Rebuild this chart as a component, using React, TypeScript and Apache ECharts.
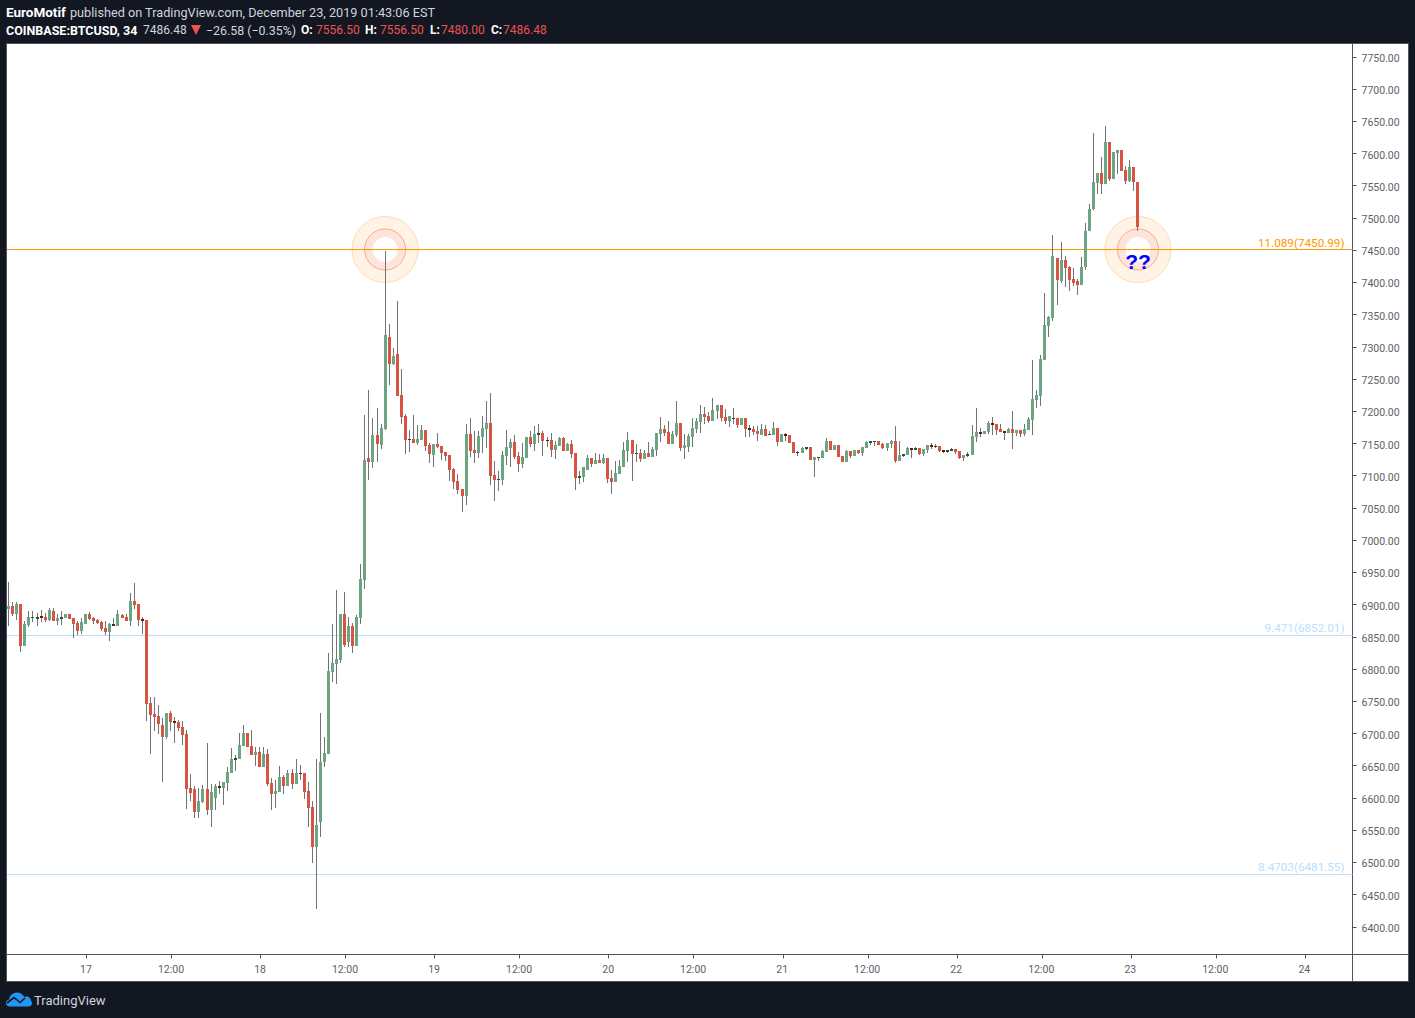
import React, { useEffect, useRef } from "react";
import * as echarts from "echarts";

// Each bar: [open, close, low, high]
const dec16Bars = [
  [6893,6898,6867,6935],[6898,6885,6882,6904],[6885,6901,6876,6904],[6901,6836,6826,6901],[6836,6870,6836,6874.5],
  [6868,6881,6865,6890],[6879,6881,6873,6890],[6878,6881,6867,6887],[6882,6879,6873,6892],[6881,6876,6873,6887],
  [6876,6892,6874.5,6895],[6890,6874.5,6874.5,6895],[6874.5,6879,6868,6885],[6878,6881,6868,6890],[6879,6885,6879,6885],
  [6885,6878,6878,6885],[6879,6870,6848,6879],[6871,6859,6853,6874.5],[6859,6873,6854,6879],
];
const dec17Bars = [
  [6870,6885,6870,6885],[6885,6878,6876,6888.5],[6879,6874.5,6870,6881],[6876,6871,6870,6878],[6873,6862,6859,6874.5],
  [6864,6857.5,6853,6874.5],[6857.5,6870,6843.5,6871],[6870,6867,6867,6879],[6867,6885,6867,6892],[6884,6879,6879,6885],
  [6881,6874.5,6874.5,6885],[6874.5,6905.5,6867,6918],[6905.5,6899.5,6893,6933.5],[6901,6876,6867,6901],[6878,6874.5,6854,6881],
  [6876,6745.7,6719,6876],[6747,6729,6668,6756.5],[6730,6725.5,6704,6756.5],[6727,6714.6,6699,6744],[6713,6694.5,6624.6,6724],
  [6694.5,6731.7,6691.4,6731.7],[6731.7,6717.7,6704,6734.8],[6719,6716,6685,6725.5],[6718,6708.4,6704,6721],[6710,6697.6,6682,6719],
  [6699,6614,6583,6705],[6615,6608,6595,6637],[6614,6578,6569,6618],[6578,6595,6569,6615],[6594,6614,6592,6620],
  [6614,6581,6573,6685],[6581,6609,6555,6621.5],[6600,6618,6581,6621.5],[6618,6615,6606,6626],[6615,6624.6,6589,6624.6],
  [6623,6640,6611,6648],[6639,6660,6639,6677],[6659,6662,6642,6666.5],[6660,6682,6660,6701],[6680.5,6701,6680.5,6713],
  [6701,6679,6679,6701],[6680.5,6666.5,6666.5,6705],[6666.5,6671,6649,6679],
];
const dec18Bars = [
  [6671,6648,6648,6679],[6648,6668,6648,6679],[6668,6621.5,6618,6676],[6623,6606,6581,6631],[6606,6611,6584,6628],
  [6609,6632,6609,6649],[6632,6618,6606,6635.5],[6618,6639,6618,6643],[6639,6621.5,6614,6645],[6621.5,6639,6621.5,6660],
  [6639,6637,6628,6651],[6639,6609,6598,6639],[6611,6584,6555,6625],[6586,6524,6499,6595],[6524,6558,6427.5,6660],
  [6562.5,6656,6539,6732],[6656,6670,6648,6694.5],[6668,6797,6668,6825],[6795,6809,6780,6870],[6808,6815.5,6777,6923],
  [6814,6885,6809,6885],[6885,6837,6834,6919.5],[6842,6867,6834,6881],[6867,6836,6825,6871],[6836,6881,6836,6884],
  [6879,6940,6870,6963],[6938,7124,6924,7194],[7127,7121,7093,7233],[7121,7163,7112,7189.5],[7163,7149,7121,7205],
  [7148,7174,7141,7180],[7172,7318,7171,7449],[7315,7273,7241,7335],[7273,7286,7272,7298],[7289,7224,7224,7371],
  [7225,7191,7180,7265.5],[7193,7155,7134,7196],[7155.5,7157,7137,7171],[7157,7151,7151,7194],[7151,7157,7148,7179],
  [7155,7171,7155,7179],[7171,7146,7138,7171],[7148,7134,7120,7151],
];
const dec19Bars = [
  [7132,7149,7113.5,7149],[7149,7144.5,7143,7166],[7146,7135,7124,7146],[7137,7130.5,7123,7137],[7132,7109,7092,7132],
  [7110,7090,7079,7112],[7092,7078,7072,7103],[7079,7068.5,7044,7079],[7068.5,7165,7054.5,7180],[7165,7138,7129,7189.5],
  [7140,7135,7120,7169],[7135,7162,7127.5,7169],[7160,7174,7135,7193],[7172.5,7182,7143,7216],[7182,7099.5,7085.5,7228],
  [7101,7093,7061,7123],[7093,7095,7076,7107],[7093,7132,7085.5,7138],[7130.5,7144.5,7117,7171],[7143,7152,7113.5,7157],
  [7152,7129,7126,7163],[7130.5,7118,7106,7137],[7118,7129,7112,7151],[7127.5,7160,7127.5,7160],[7160,7149,7144.5,7169],
  [7149,7165,7138,7177],[7163,7166,7151,7180],[7166,7154,7130.5,7169],[7155.5,7154,7144.5,7160],[7155.5,7140,7129,7166],
  [7140,7148,7126,7154],[7146,7158.5,7146,7160],[7158.5,7138,7138,7160],[7138,7149,7138,7151],[7149,7134,7127.5,7155],
  [7135,7096,7077.8,7135],[7096,7099.5,7087,7107],[7098,7113.5,7090,7113.5],[7109,7127.5,7109,7132],[7127.5,7118,7113.5,7127.5],
  [7118,7124,7118,7135],[7124,7120,7120,7133.7],[7120,7127.5,7118,7134],
];
const dec20Bars = [
  [7127.5,7095,7089,7127.5],[7096,7090,7072,7109],[7090,7104,7090,7123],[7103,7115,7103,7124],[7113.5,7140,7113.5,7152],
  [7138,7155,7121,7168],[7155.5,7134,7092,7155.5],[7134,7135,7121,7149],[7135,7126,7121,7141],[7126,7135,7126,7140],
  [7135,7129,7129,7152],[7129,7141,7129,7144.5],[7140,7166,7131,7166],[7165,7172.5,7152,7191],[7172.5,7166,7162,7179],
  [7168,7149,7149,7185],[7149,7165,7149,7169],[7163,7182,7160,7216],[7182,7143,7138,7182],[7143,7148,7126,7165],
  [7144.5,7162,7137,7165],[7160,7174,7144.5,7189.5],[7172.5,7185,7166,7189.5],[7183,7196,7166,7210],[7196,7191,7180,7207],
  [7193,7185,7182,7199],[7185,7202,7185,7221],[7200,7210,7188,7210],[7210,7189.5,7185,7210],[7191,7185,7180,7203.5],
  [7185,7193,7176,7193],[7189.5,7188,7180,7205],[7189.5,7179,7174,7189.5],[7179,7189.5,7179,7189.5],[7189.5,7172.5,7160,7189.5],
  [7174,7171,7160,7179],[7172.5,7168,7163,7177],[7169.4,7165,7154,7177],[7163,7172.5,7163,7180],[7172.5,7162,7162,7179],
  [7163,7165,7163,7169],[7163,7174,7163,7183],[7174,7152,7146,7174],
];
const dec21Bars = [
  [7152,7165,7152,7165],[7165,7162,7154,7166],[7163,7151,7151,7163],[7152,7135,7135,7152],[7137,7135,7130.6,7138],
  [7135,7143,7135,7144.5],[7141.4,7144.5,7140,7144.5],[7144.5,7124,7124,7144.5],[7124,7129,7098,7129],[7127.5,7129,7123,7129],
  [7127.5,7138,7127.5,7140],[7137,7154,7137,7158.5],[7154,7140,7140,7154],[7140,7148,7140,7148],[7148,7129,7129,7148],
  [7131,7121,7121,7131],[7121,7138,7121,7140],[7138,7131,7127.5,7138],[7131,7140,7131,7140],[7140,7135,7134,7140],
  [7135,7145,7131,7145],[7143,7152,7143,7154],[7151,7154,7148,7154],[7152.3,7154,7146,7154],[7154,7148,7148,7154],
  [7149,7143,7141.5,7151],[7143,7151,7138,7151],[7149,7154,7143,7155.5],[7154,7123,7120,7177],[7123,7132,7123,7154],
  [7130.6,7133.7,7129,7133.7],[7132,7143,7132,7144.6],[7143,7140,7127.5,7143],[7140,7143,7140,7144.6],[7143,7134,7132,7143],
  [7134,7141.5,7130.6,7141.5],[7140,7148,7135,7148],[7148,7144.6,7141.5,7151],[7146,7144.6,7143,7149],[7146,7138,7137,7146],
  [7140,7137,7135,7140],[7137,7140,7135,7140],[7138,7141.5,7138,7143],
];
const dec22Bars = [
  [7141.5,7137,7134,7141.5],[7138,7127.5,7126,7138],[7127.5,7132,7123,7132],[7130.6,7133.7,7129,7137],[7132,7162,7132,7179],
  [7160,7168,7152,7205],[7168,7165,7160,7174],[7165,7169,7165,7169],[7168,7182,7165,7185],[7182,7179,7163,7191],
  [7180,7171,7163,7180],[7172.5,7168,7168,7180],[7169,7166,7155.5,7169],[7166,7172.5,7166,7174],[7172.5,7166,7141.5,7200],
  [7166,7171,7162,7171],[7171,7165,7160,7171],[7165,7172.5,7162,7180],[7171,7188,7171,7191],[7186,7219,7163,7279.5],
  [7217.5,7225,7205,7233],[7224,7281,7208,7287],[7279.5,7334,7279.5,7383.5],[7332,7346,7315,7348],[7345,7441,7340,7473.5],
  [7438,7404,7365,7438],[7402,7435,7399,7463],[7435,7422,7393,7441],[7424,7404,7387,7425],[7405,7399,7394,7422],
  [7402,7396,7380,7405],[7396,7424,7396,7439],[7424,7480,7419,7492],[7480,7514,7480,7522],[7514,7556,7512,7632],
  [7554,7570,7537,7570],[7570,7553,7537,7595],[7553,7618,7553,7643],[7618,7560,7557,7618],[7560,7602,7560,7602],
  [7601,7605.5,7568,7605.5],[7605.5,7573,7573,7605.5],[7574,7557,7552.7,7581],
];
const dec23Bars = [
  [7557,7579,7556,7590],[7579,7556.5,7542,7579],[7556.5,7486.48,7480,7556.5],
];

const candles = [...dec16Bars, ...dec17Bars, ...dec18Bars, ...dec19Bars, ...dec20Bars, ...dec21Bars, ...dec22Bars, ...dec23Bars];

const priceTicks = [6400,6450,6500,6550,6600,6650,6700,6750,6800,6850,6900,6950,7000,7050,7100,7150,7200,7250,7300,7350,7400,7450,7500,7550,7600,7650,7700,7750];
const priceLabelNudge = 2.5;
const timeTickBars = [19,40,62,83,105,126,148,169,191,212,234,255,277,298,320];
const timeTickLabels = ["17","12:00","18","12:00","19","12:00","20","12:00","21","12:00","22","12:00","23","12:00","24"];

const levelValues = [7450.99, 6852.01, 6481.55];
const levelLabels = ["11.089(7450.99)", "9.471(6852.01)", "8.4703(6481.55)"];
const levelColors = ["#ff9800", "#bbdefb", "#bbdefb"];

const ringBars = [93, 279];
const ringTexts = ["", "??"];

const COLORS = { up: "#6ba583", down: "#d75442", upDark: "#225437", downDark: "#5b1a13", wick: "#737375", bg: "#131722", frame: "#50535e", tick: "#5d606b" };
const FONT = "Roboto, sans-serif";

const headerLine1 = [
  { text: "EuroMotif", x: 6, bold: true, size: 13.5, fill: "#ffffff" },
  { text: "published on TradingView.com, December 23, 2019 01:43:06 EST", x: 70, bold: false, size: 12.7, fill: "#d1d4dc" },
];
const headerLine2 = [
  { text: "COINBASE:BTCUSD, 34", x: 6, bold: true, size: 12.5, fill: "#ffffff" },
  { text: "7486.48", x: 143, bold: false, size: 12, fill: "#d1d4dc" },
  { text: "−26.58 (−0.35%)", x: 206, bold: false, size: 12.4, fill: "#d1d4dc" },
  { text: "O:", x: 301, bold: true, size: 12, fill: "#ffffff" },
  { text: "7556.50", x: 316, bold: false, size: 12, fill: "#ef5350" },
  { text: "H:", x: 365, bold: true, size: 12, fill: "#ffffff" },
  { text: "7556.50", x: 380, bold: false, size: 12, fill: "#ef5350" },
  { text: "L:", x: 430, bold: true, size: 12, fill: "#ffffff" },
  { text: "7480.00", x: 441, bold: false, size: 12, fill: "#ef5350" },
  { text: "C:", x: 491, bold: true, size: 12, fill: "#ffffff" },
  { text: "7486.48", x: 503, bold: false, size: 12, fill: "#ef5350" },
];

echarts.graphic.registerShape(
  "tvLogo",
  echarts.graphic.extendPath(
    "M3.5 14C1.5 14 0 12.5 0 10.5C0 8.7 1.3 7.3 3 7C3.6 3 7 0 11 0C14.3 0 17 1.8 18.3 4.6C19 4.2 19.8 4 20.5 4C22.9 4 24.8 5.8 25 8.2C25.6 8.9 26 9.8 26 10.8C26 12.6 24.6 14 22.8 14Z",
    {}
  )
);

function renderCandle(params: any, api: any) {
  const i = api.value(0);
  const o = api.value(1);
  const c = api.value(2);
  const px = api.coord([i, o])[0];
  const col = Math.floor(px);
  const yOpen = Math.round(api.coord([i, o])[1]);
  const yClose = Math.round(api.coord([i, c])[1]);
  const yLow = Math.round(api.coord([i, api.value(3)])[1]);
  const yHigh = Math.round(api.coord([i, api.value(4)])[1]);
  const top = Math.min(yOpen, yClose);
  const h = Math.max(1, Math.abs(yOpen - yClose));
  const rising = c >= o;
  const thin = Math.abs(o - c) < 4;
  const fill = thin ? (rising ? COLORS.upDark : COLORS.downDark) : rising ? COLORS.up : COLORS.down;
  return {
    type: "group",
    children: [
      { type: "line", shape: { x1: col + 0.5, y1: yHigh, x2: col + 0.5, y2: yLow }, style: { stroke: COLORS.wick, lineWidth: 1 } },
      { type: "rect", shape: { x: col - 1, y: top, width: 3, height: h }, style: { fill } },
    ],
  };
}

function renderRing(params: any, api: any) {
  const p = api.coord([api.value(0), api.value(1)]);
  const label = ringTexts[params.dataIndex];
  const children: any[] = [
    { type: "circle", shape: { cx: p[0], cy: p[1], r: 33 }, style: { fill: "#fff3e5", stroke: "#ffdcb2", lineWidth: 1 } },
    { type: "circle", shape: { cx: p[0], cy: p[1], r: 20.5 }, style: { fill: "#fde5dc", stroke: "#f4ab8f", lineWidth: 1 } },
    { type: "circle", shape: { cx: p[0], cy: p[1], r: 12.5 }, style: { fill: "#ffffff" } },
  ];
  if (label) {
    children.push({
      type: "text",
      style: { x: p[0], y: p[1] + 12, text: label, fill: "#0000ff", font: "bold 21px 'Liberation Sans', Arial, sans-serif", align: "center", verticalAlign: "middle" },
      z2: 10,
    });
  }
  return { type: "group", children };
}

function headerText(items: any[], y: number) {
  return items.map((t) => ({
    type: "text",
    x: t.x,
    y,
    style: { text: t.text, fill: t.fill, font: `${t.bold ? "bold " : ""}${t.size}px ${FONT}`, verticalAlign: "middle" },
  }));
}

export default function App() {
  const ref = useRef<HTMLDivElement>(null);
  useEffect(() => {
    const chart = echarts.init(ref.current!, undefined, { renderer: "svg" });
    chart.setOption({
      animation: false,
      backgroundColor: COLORS.bg,
      grid: { left: 7, top: 44, width: 1345.5, height: 910.5, show: false },
      xAxis: {
        type: "value",
        min: -0.4175,
        max: 332,
        splitLine: { show: false },
        axisLine: { show: true, onZero: false, lineStyle: { color: COLORS.frame } },
        axisTick: { show: true, length: 4, lineStyle: { color: COLORS.frame }, customValues: timeTickBars.map((b) => b + 0.25) },
        axisLabel: {
          color: COLORS.tick,
          fontFamily: FONT,
          fontSize: 10.5,
          margin: 9,
          customValues: timeTickBars.map((b) => b + 0.1),
          formatter: (v: number) => timeTickLabels[timeTickBars.indexOf(Math.round(v - 0.1))] ?? "",
        },
      },
      yAxis: {
        type: "value",
        position: "right",
        min: 6356.96,
        max: 7769.9,
        splitLine: { show: false },
        axisLine: { show: true, onZero: false, lineStyle: { color: COLORS.frame } },
        axisTick: { show: true, length: 4, lineStyle: { color: COLORS.frame }, customValues: priceTicks },
        axisLabel: {
          color: COLORS.tick,
          fontFamily: FONT,
          fontSize: 10.5,
          margin: 9,
          customValues: priceTicks.map((p) => p - priceLabelNudge),
          formatter: (v: number) => (v + priceLabelNudge).toFixed(2),
        },
      },
      series: [
        {
          type: "custom",
          name: "rings",
          z: 1,
          silent: true,
          clip: false,
          data: ringBars.map((b) => [b, levelValues[0]]),
          encode: { x: 0, y: 1 },
          renderItem: renderRing,
        },
        {
          type: "custom",
          name: "BTCUSD",
          z: 3,
          silent: true,
          clip: false,
          data: candles.map((c, i) => [i, ...c]),
          encode: { x: 0, y: [1, 2, 3, 4] },
          renderItem: renderCandle,
          markLine: {
            z: 2,
            silent: true,
            symbol: ["none", "none"],
            data: levelValues.map((v, i) => ({
              yAxis: v,
              lineStyle: { color: levelColors[i], width: 1, type: "solid" },
              label: {
                show: true,
                position: "insideEndTop",
                distance: 1,
                padding: [0, 7, 0, 0],
                formatter: levelLabels[i],
                color: levelColors[i],
                fontFamily: FONT,
                fontSize: 11.7,
              },
            })),
          },
        },
      ],
      graphic: [
        { type: "rect", z: -10, shape: { x: 6.5, y: 43.5, width: 1402, height: 938 }, style: { fill: "#ffffff", stroke: COLORS.frame, lineWidth: 1 } },
        { type: "line", z: 0, shape: { x1: 1352.5, y1: 954, x2: 1352.5, y2: 981 }, style: { stroke: COLORS.frame, lineWidth: 1 } },
        { type: "line", z: 0, shape: { x1: 1352, y1: 954.5, x2: 1408, y2: 954.5 }, style: { stroke: COLORS.frame, lineWidth: 1 } },
        ...headerText(headerLine1, 12),
        ...headerText(headerLine2, 30),
        { type: "polygon", shape: { points: [[191, 25], [201, 25], [196, 35]] }, style: { fill: "#ef5350" } },
        { type: "tvLogo", x: 6, y: 992.5, style: { fill: "#2196f3" } },
        { type: "polyline", shape: { points: [[7, 1003], [14, 997.5], [20, 1002.5], [25, 998]] }, style: { stroke: COLORS.bg, lineWidth: 1.6, fill: "none" } },
        { type: "text", x: 34, y: 1000, style: { text: "TradingView", fill: "#d1d4dc", font: `13px ${FONT}`, verticalAlign: "middle" } },
      ],
    });
    return () => chart.dispose();
  }, []);
  return <div ref={ref} style={{ position: "fixed", left: 0, top: 0, width: 1415, height: 1018 }} />;
}
